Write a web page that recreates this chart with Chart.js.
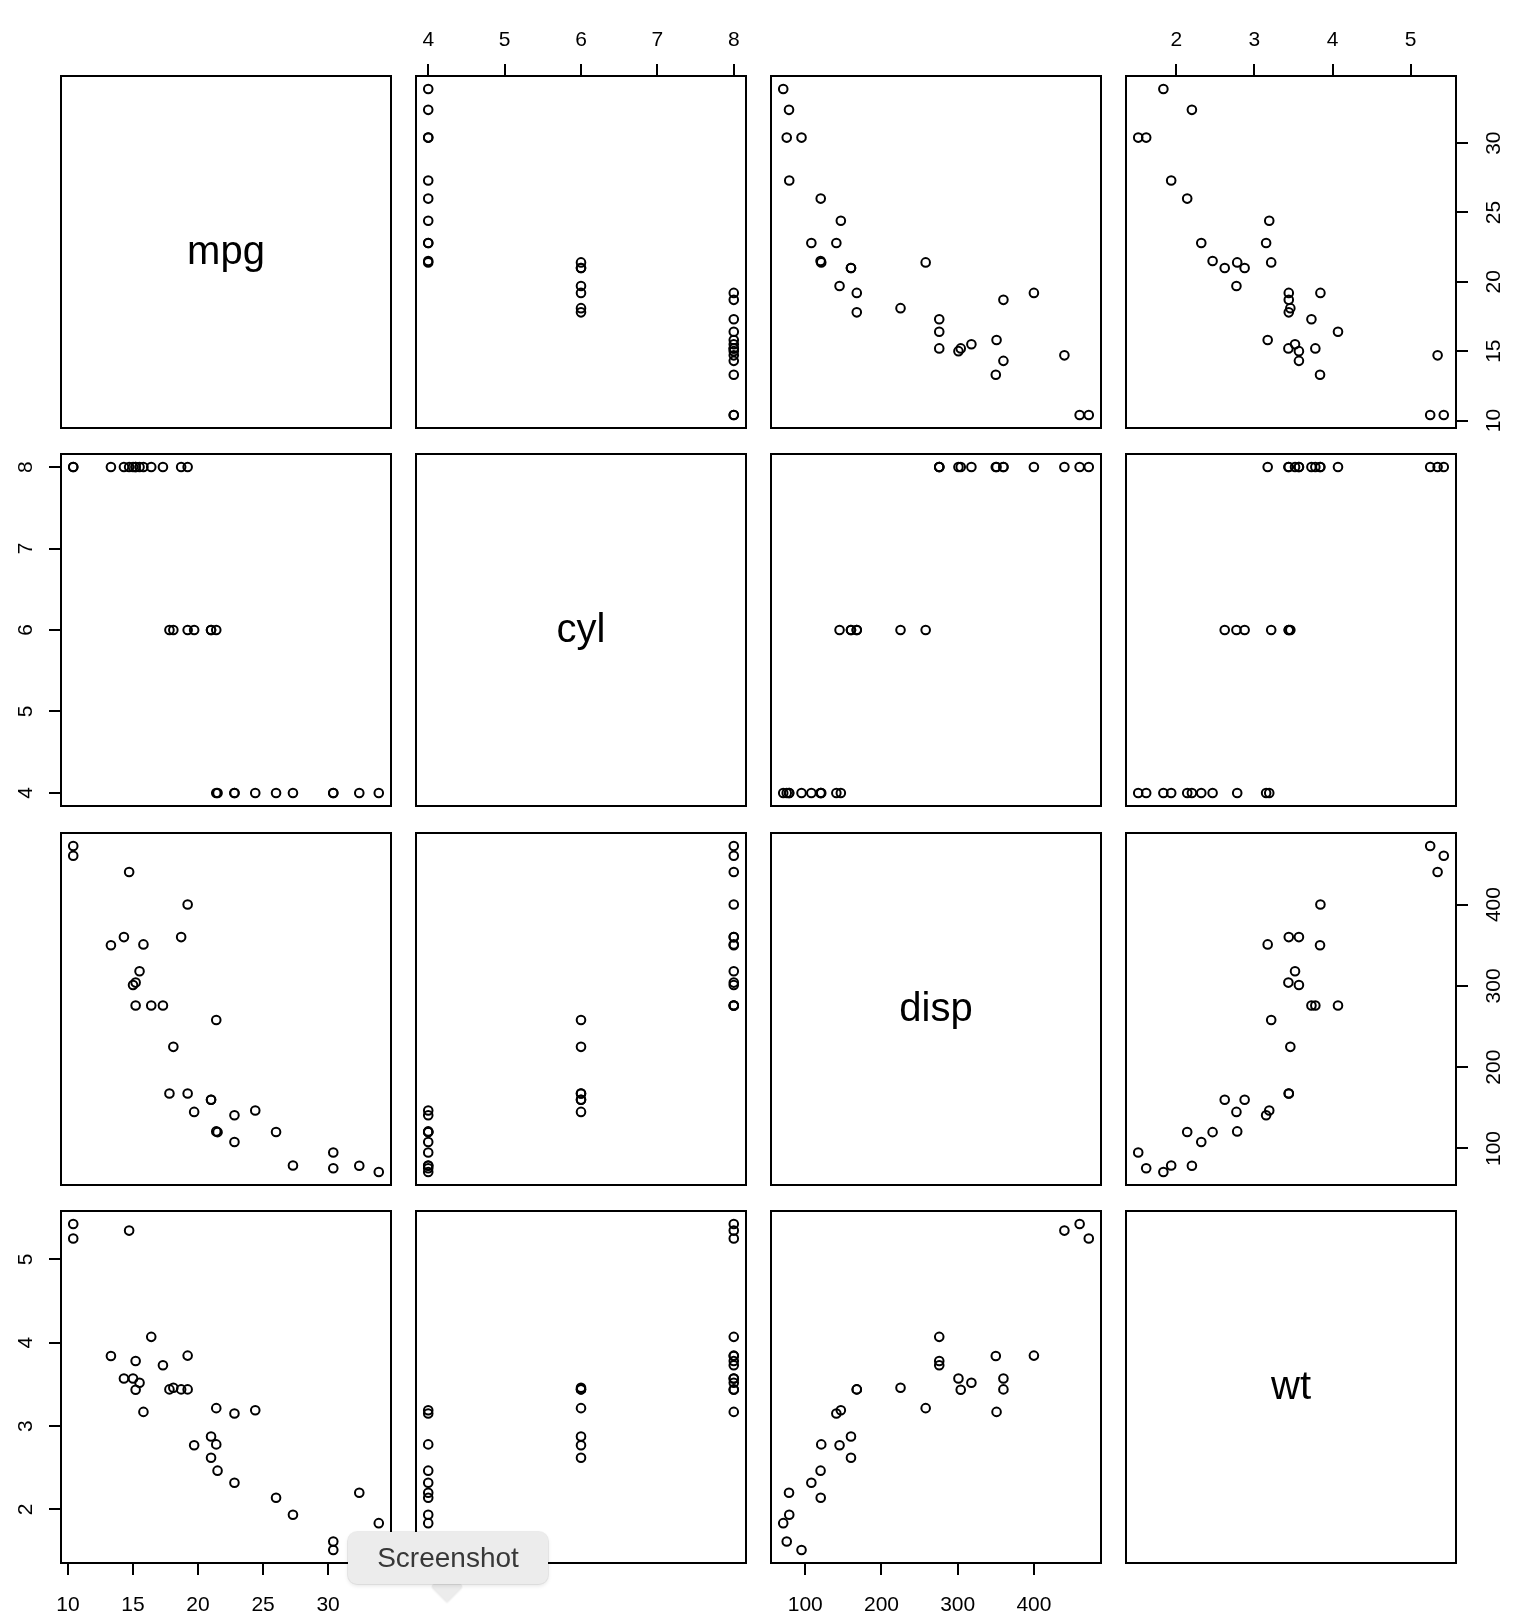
<!DOCTYPE html>
<html>
<head>
<meta charset="utf-8">
<script src="https://cdn.jsdelivr.net/npm/chart.js@4.4.0/dist/chart.umd.min.js"></script>
<style>
  html, body { margin: 0; padding: 0; background: #fff; }
  body { width: 1528px; height: 1622px; position: relative; overflow: hidden; }
  canvas { position: absolute; }
  #tipbox {
    position: absolute; left: 348px; top: 1532px; width: 200px; height: 52px;
    background: #ececec; border-radius: 9px;
    box-shadow: 0 0 0 1px rgba(0,0,0,0.07), 0 2px 4px rgba(0,0,0,0.10);
    font: 28px "Liberation Sans", Arial, Helvetica, sans-serif; color: #383838;
    display: flex; align-items: center; justify-content: center; z-index: 10;
  }
  #tiparrow {
    position: absolute; left: 436px; top: 1575px; width: 22px; height: 22px;
    background: #ececec; transform: rotate(45deg); z-index: 9;
    box-shadow: 1px 1px 2px rgba(0,0,0,0.10);
  }
</style>
</head>
<body>
<div id="tiparrow"></div>
<div id="tipbox">Screenshot</div>
<script>
// ---- data (mtcars) ----
const varNames = ['mpg', 'cyl', 'disp', 'wt'];
const mpg  = [21.0, 21.0, 22.8, 21.4, 18.7, 18.1, 14.3, 24.4, 22.8, 19.2, 17.8, 16.4, 17.3, 15.2, 10.4, 10.4,
              14.7, 32.4, 30.4, 33.9, 21.5, 15.5, 15.2, 13.3, 19.2, 27.3, 26.0, 30.4, 15.8, 19.7, 15.0, 21.4];
const cyl  = [6, 6, 4, 6, 8, 6, 8, 4, 4, 6, 6, 8, 8, 8, 8, 8,
              8, 4, 4, 4, 4, 8, 8, 8, 8, 4, 4, 4, 8, 6, 8, 4];
const disp = [160, 160, 108, 258, 360, 225, 360, 146.7, 140.8, 167.6, 167.6, 275.8, 275.8, 275.8, 472, 460,
              440, 78.7, 75.7, 71.1, 120.1, 318, 304, 350, 400, 79, 120.3, 95.1, 351, 145, 301, 121];
const wt   = [2.620, 2.875, 2.320, 3.215, 3.440, 3.460, 3.570, 3.190, 3.150, 3.440, 3.440, 4.070, 3.730, 3.780, 5.250, 5.424,
              5.345, 2.200, 1.615, 1.835, 2.465, 3.520, 3.435, 3.840, 3.845, 1.935, 2.140, 1.513, 3.170, 2.770, 3.570, 2.780];

// ---- tick values ----
const mpgTicks  = [10, 15, 20, 25, 30];
const cylTicks  = [4, 5, 6, 7, 8];
const dispTicks = [100, 200, 300, 400];
const wtTicks   = [2, 3, 4, 5];

const series = { mpg, cyl, disp, wt };
const tickSets = { mpg: mpgTicks, cyl: cylTicks, disp: dispTicks, wt: wtTicks };

// ---- layout ----
const FONT = '"Liberation Sans", Arial, Helvetica, sans-serif';
const FS = 21;
const M = 62;                    // gutter around each panel canvas
const PW = 330, PH = 352;        // panel size
const colLeft = [61, 416, 771, 1126];
const rowTop  = [76, 454, 833, 1211];
const TICK = 12;
const LABEL_OFF_LEFT = 35, LABEL_OFF_RIGHT = 38;
const PAD_TOP = 11, PAD_BOTTOM = 18;

Chart.defaults.font.family = FONT;
Chart.defaults.font.size = FS;
Chart.defaults.color = '#000';

function rangeOf(arr) {
  const lo = Math.min(...arr), hi = Math.max(...arr), d = (hi - lo) * 0.04;
  return [lo - d, hi + d];
}

const measureCtx = document.createElement('canvas').getContext('2d');
measureCtx.font = FS + 'px ' + FONT;
function widest(vals) {
  return Math.max(...vals.map(v => measureCtx.measureText(String(v)).width));
}

const boxPlugin = {
  id: 'box',
  afterDatasetsDraw(chart, args, opts) {
    const { ctx, chartArea: a } = chart;
    ctx.save();
    ctx.strokeStyle = '#000';
    ctx.lineWidth = 2;
    ctx.strokeRect(a.left, a.top, a.right - a.left, a.bottom - a.top);
    if (opts && opts.label) {
      ctx.fillStyle = '#000';
      ctx.font = '40px ' + FONT;
      ctx.textAlign = 'center';
      ctx.textBaseline = 'alphabetic';
      ctx.fillText(opts.label, (a.left + a.right) / 2, (a.top + a.bottom) / 2 + 12);
    }
    ctx.restore();
  }
};

function axisCfg(name, position, show, isY) {
  const [min, max] = rangeOf(series[name]);
  const ticks = tickSets[name];
  let pad = position === 'top' ? PAD_TOP : PAD_BOTTOM;
  if (isY) pad = (position === 'left' ? LABEL_OFF_LEFT : LABEL_OFF_RIGHT) - TICK - widest(ticks) / 2;
  const cfg = {
    type: 'linear',
    position, display: show, min, max,
    afterBuildTicks: s => { s.ticks = ticks.map(v => ({ value: v })); },
    grid: { display: show, drawOnChartArea: false, drawTicks: true, tickLength: TICK, color: '#000', lineWidth: 2 },
    border: { display: false },
    ticks: {
      display: show, color: '#000', font: { size: FS, family: FONT }, padding: pad, autoSkip: false,
      minRotation: isY ? 90 : 0, maxRotation: isY ? 90 : 0,
      crossAlign: isY ? 'center' : 'near',
      callback: v => String(v)
    }
  };
  if (show) cfg.afterFit = s => { if (isY) s.width = M; else s.height = M; };
  return cfg;
}

for (let r = 0; r < 4; r++) {
  for (let c = 0; c < 4; c++) {
    const cv = document.createElement('canvas');
    cv.width = PW + 2 * M;
    cv.height = PH + 2 * M;
    cv.style.width = cv.width + 'px';
    cv.style.height = cv.height + 'px';
    cv.style.left = (colLeft[c] - M) + 'px';
    cv.style.top = (rowTop[r] - M) + 'px';
    document.body.appendChild(cv);

    const xName = varNames[c], yName = varNames[r];
    const diag = r === c;
    const xTop = !diag && r === 0 && c % 2 === 1;
    const xBottom = !diag && r === 3 && c % 2 === 0;
    const yLeft = !diag && c === 0 && r % 2 === 1;
    const yRight = !diag && c === 3 && r % 2 === 0;

    const pts = diag ? [] : series[xName].map((x, i) => ({ x, y: series[yName][i] }));

    new Chart(cv, {
      type: 'scatter',
      data: {
        datasets: [{
          data: pts,
          pointStyle: 'circle',
          pointRadius: 4.3,
          pointHoverRadius: 4.3,
          borderColor: '#000',
          backgroundColor: 'rgba(0,0,0,0)',
          borderWidth: 2
        }]
      },
      options: {
        responsive: false,
        devicePixelRatio: 1,
        animation: false,
        events: [],
        layout: {
          padding: {
            top: xTop ? 0 : M,
            bottom: xBottom ? 0 : M,
            left: yLeft ? 0 : M,
            right: yRight ? 0 : M
          }
        },
        plugins: {
          legend: { display: false },
          tooltip: { enabled: false },
          box: { label: diag ? varNames[r] : null }
        },
        scales: {
          x: axisCfg(xName, xTop ? 'top' : 'bottom', xTop || xBottom, false),
          y: axisCfg(yName, yRight ? 'right' : 'left', yLeft || yRight, true)
        }
      },
      plugins: [boxPlugin]
    });
  }
}
</script>
</body>
</html>
